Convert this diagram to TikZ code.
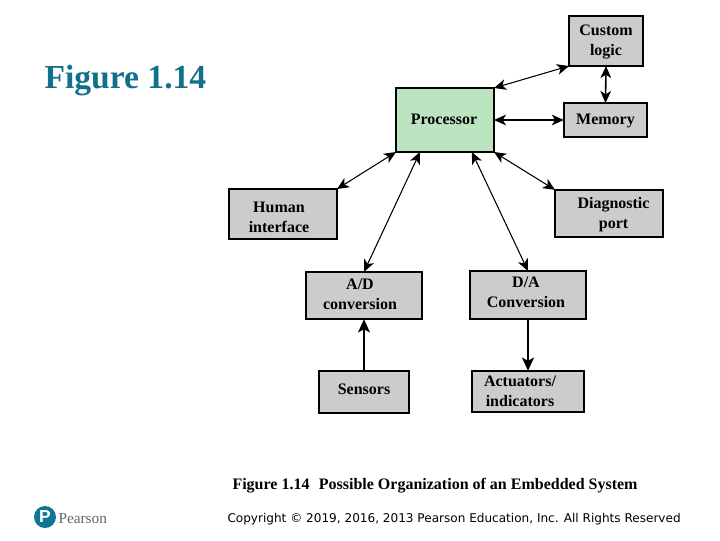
\documentclass[tikz,border=0pt]{standalone}
\usepackage{fontspec}
\setmainfont{Liberation Serif}
\newfontfamily\copyfont{DejaVu Sans}
\newfontfamily\logofont{Liberation Sans}
\usetikzlibrary{arrows.meta}

\definecolor{boxgrey}{RGB}{204,204,204}
\definecolor{procgreen}{RGB}{188,228,192}
\definecolor{titleteal}{RGB}{18,112,140}
\definecolor{logoblue}{RGB}{14,118,150}

% box text, moved right by #1 and up by #2
\newcommand{\boxtext}[3]{\raisebox{#2}[0pt][0pt]{\makebox[0pt]{\hspace*{#1}\hspace*{#1}\begin{tabular}[c]{@{}c@{}}#3\end{tabular}}}}

\tikzset{every picture/.style={line width=0.75pt}}
\tikzset{
  unitbox/.style={draw=black,line width=1.2pt,fill=boxgrey,inner sep=0pt,outer sep=0pt,align=center,font=\fontsize{12}{15}\selectfont\bfseries},
  link/.style={line width=0.8pt,{Stealth[length=9pt,width=8pt,inset=2.5pt]}-{Stealth[length=9pt,width=8pt,inset=2.5pt]}},
  oneway/.style={line width=0.8pt,-{Stealth[length=10pt,width=9pt,inset=2.5pt]}}
}

\begin{document}
\begin{tikzpicture}[x=0.75pt,y=0.75pt,yscale=-1,xscale=1]
    \useasboundingbox (0,0) rectangle (720,540);

    %Heading
    \node [anchor=west,inner sep=0pt,text=titleteal,font=\fontsize{25.2}{28}\selectfont\bfseries] (heading) at (44,81) {Figure 1.14};

    %Boxes
    \node [unitbox,fill=procgreen,minimum width=73.5pt,minimum height=48pt] (proc) at (445,120) {\boxtext{-0.75pt}{-3pt}{Processor}};
    \node [unitbox,minimum width=55.5pt,minimum height=37.5pt] (custom) at (606,41) {\boxtext{0pt}{-3.4pt}{Custom\\logic}};
    \node [unitbox,minimum width=62.5pt,minimum height=25.5pt] (mem) at (605.5,120) {\boxtext{0pt}{-3.7pt}{Memory}};
    \node [unitbox,minimum width=81pt,minimum height=35.5pt] (diag) at (609,213.5) {\boxtext{3.4pt}{-4pt}{Diagnostic\\port}};
    \node [unitbox,minimum width=81pt,minimum height=37.5pt] (human) at (283,214) {\boxtext{-3pt}{-6pt}{Human\\interface}};
    \node [unitbox,minimum width=87pt,minimum height=35.5pt] (adc) at (364,295.5) {\boxtext{-3pt}{-3.2pt}{A/D\\conversion}};
    \node [unitbox,minimum width=87pt,minimum height=36pt] (dac) at (528,295) {\boxtext{-1.5pt}{-2pt}{D/A\\Conversion}};
    \node [unitbox,minimum width=67.5pt,minimum height=31.5pt] (sens) at (364,392) {\boxtext{0pt}{-2.2pt}{Sensors}};
    \node [unitbox,minimum width=84pt,minimum height=31pt] (act) at (528,391.5) {\boxtext{-6pt}{-3.7pt}{Actuators/\\indicators}};

    %Connectors
    \draw [link] (proc.north east) -- (custom.south west);
    \draw [link] (proc.east) -- (mem.west);
    \draw [link,line width=1.2pt] (custom.south) -- (mem.north);
    \draw [link] (proc.south east) -- (diag.north west);
    \draw [link] (proc.south west) -- (human.north east);
    \draw [link] (proc.-128) -- (adc.north);
    \draw [link] (proc.-50) -- (dac.north);
    \draw [oneway,line width=1.2pt] (sens.north) -- (adc.south);
    \draw [oneway] (dac.south) -- (act.north);

    %Caption
    \node [anchor=west,inner sep=0pt,font=\fontsize{12}{14}\selectfont\bfseries] (caption) at (232,486) {Figure 1.14\hspace{4pt} Possible Organization of an Embedded System};
    \node [anchor=west,inner sep=0pt,font=\fontsize{9.05}{11}\copyfont] (copyright) at (227,519) {Copyright © 2019, 2016, 2013 Pearson Education, Inc. All Rights Reserved};

    %Logo
    \node [circle,fill=logoblue,minimum size=16.5pt,inner sep=0pt,text=white,font=\fontsize{13}{13}\logofont\bfseries] (logo) at (45,517) {P};
    \node [anchor=west,inner sep=0pt,text=black!60,font=\fontsize{11.5}{13}\selectfont] (brand) at (58,519) {Pearson};
\end{tikzpicture}
\end{document}
